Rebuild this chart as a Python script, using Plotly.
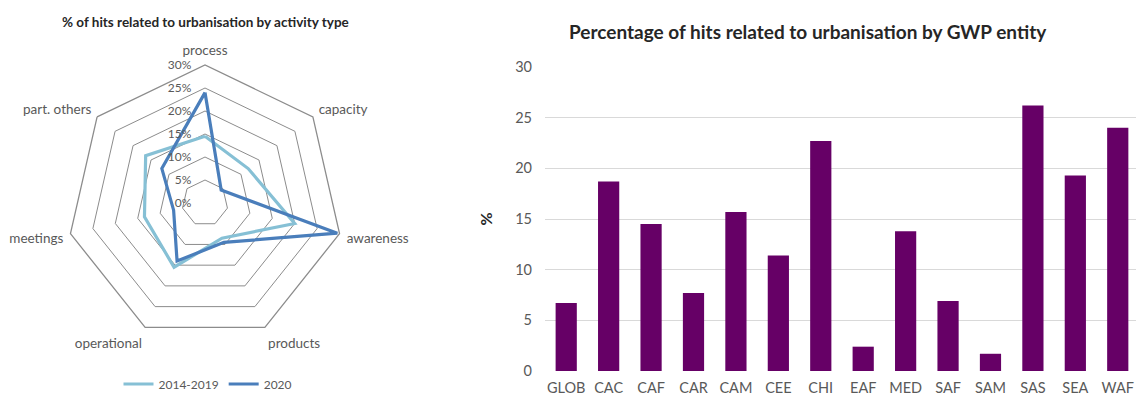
import plotly.graph_objects as go

# Radar chart: share of hits related to urbanisation by activity type
activities = ["process", "capacity", "awareness", "products",
              "operational", "meetings", "part. others"]
share_2014_2019 = [0.145, 0.12, 0.20, 0.085, 0.155, 0.135, 0.165]
share_2020 = [0.24, 0.045, 0.295, 0.095, 0.14, 0.07, 0.12]
radial_ticks = [0, 0.05, 0.10, 0.15, 0.20, 0.25, 0.30]

# Bar chart: percentage of hits related to urbanisation by GWP entity
entities = ["GLOB", "CAC", "CAF", "CAR", "CAM", "CEE", "CHI",
            "EAF", "MED", "SAF", "SAM", "SAS", "SEA", "WAF"]
entity_pct = [6.7, 18.7, 14.5, 7.7, 15.7, 11.4, 22.7,
              2.4, 13.8, 6.9, 1.7, 26.2, 19.3, 24.0]
bar_ticks = [0, 5, 10, 15, 20, 25, 30]

FONT = "Lato"
TEXT = "#595959"
LIGHT = "#86c0d5"
DARK = "#4a7ebb"
W, H = 1136, 399


def closed(seq):
    return list(seq) + [seq[0]]


fig = go.Figure()

fig.add_trace(go.Scatterpolar(
    r=closed(share_2014_2019), theta=closed(activities), mode="lines",
    line=dict(color=LIGHT, width=3.2), name="2014-2019", subplot="polar",
))
fig.add_trace(go.Scatterpolar(
    r=closed(share_2020), theta=closed(activities), mode="lines",
    line=dict(color=DARK, width=3.2), name="2020", subplot="polar",
))

fig.add_trace(go.Bar(
    x=entities, y=entity_pct, marker=dict(color="#660066", line_width=0),
    width=0.5, showlegend=False, xaxis="x", yaxis="y",
))

# radar geometry: centre (205, 203), outer radius 138 px
cx, cy, R = 205, 203, 138
fig.update_layout(
    width=W, height=H,
    margin=dict(l=0, r=0, t=0, b=0, autoexpand=False),
    paper_bgcolor="white", plot_bgcolor="white",
    font=dict(family=FONT, color=TEXT),
    polar=dict(
        domain=dict(x=[(cx - R) / W, (cx + R) / W],
                    y=[1 - (cy + R) / H, 1 - (cy - R) / H]),
        gridshape="linear",
        bgcolor="white",
        angularaxis=dict(
            direction="clockwise", rotation=90,
            showgrid=False, showline=True, linecolor="#8c8c8c", linewidth=1.3,
            ticks="outside", ticklen=4, tickcolor="rgba(0,0,0,0)",
            tickfont=dict(size=13.5, color=TEXT, family=FONT),
            categoryorder="array", categoryarray=activities,
        ),
        radialaxis=dict(
            range=[0, 0.30], tickvals=radial_ticks, tickformat=".0%",
            angle=90, tickangle=90, side="counterclockwise",
            showline=False, ticks="outside", ticklen=9,
            tickcolor="rgba(0,0,0,0)",
            gridcolor="#8c8c8c", gridwidth=1.3,
            tickfont=dict(size=12, color=TEXT, family=FONT),
        ),
    ),
    xaxis=dict(
        domain=[545 / W, 1.0], range=[-0.5, 13.43], automargin=False,
        showgrid=False, showline=False, ticks="", ticklabelstandoff=6,
        tickfont=dict(size=14.5, color=TEXT, family=FONT),
    ),
    yaxis=dict(
        domain=[1 - 371 / H, 1 - 67 / H], range=[0, 30], automargin=False,
        tickvals=bar_ticks, showgrid=True, gridcolor="#d9d9d9", gridwidth=1.2,
        zeroline=False, showline=False, ticks="", ticklabelstandoff=12,
        tickfont=dict(size=14.5, color=TEXT, family=FONT),
        title=dict(text="<b>%</b>", font=dict(size=16, color="#262626"), standoff=18),
    ),
    legend=dict(
        orientation="h", x=208 / W, xanchor="center", y=1 - 384 / H, yanchor="middle",
        font=dict(size=12, color=TEXT, family=FONT), itemwidth=30,
        bgcolor="rgba(0,0,0,0)",
    ),
    annotations=[
        dict(text="<b>% of hits related to urbanisation by activity type</b>",
             x=205 / W, y=1 - 22 / H, xref="paper", yref="paper",
             xanchor="center", yanchor="middle", showarrow=False,
             font=dict(size=13.5, color="#262626", family=FONT)),
        dict(text="<b>Percentage of hits related to urbanisation by GWP entity</b>",
             x=808 / W, y=1 - 31 / H, xref="paper", yref="paper",
             xanchor="center", yanchor="middle", showarrow=False,
             font=dict(size=19, color="#262626", family=FONT)),
    ],
)

fig.write_html("out.html")
